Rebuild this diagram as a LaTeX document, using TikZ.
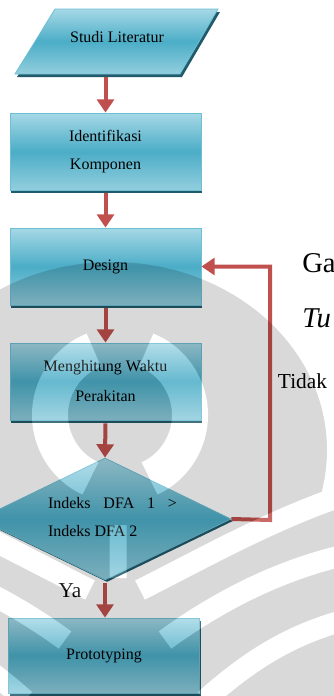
\documentclass[tikz,border=0pt]{standalone}
\usepackage{fontspec}
\setmainfont{Liberation Serif}
\usetikzlibrary{arrows.meta,shapes.geometric,shadows}

\definecolor{boxtop}{HTML}{A6D8E6}
\definecolor{boxmid}{HTML}{4BADC7}
\definecolor{boxbot}{HTML}{93CEDE}
\definecolor{boxedge}{HTML}{6DBFD4}
\definecolor{boxshade}{HTML}{215A6A}
\definecolor{flowred}{HTML}{C0504D}

\begin{document}
\begin{tikzpicture}[x=0.75pt, y=-0.75pt,
  flowfill/.style={draw=boxedge, line width=0.6pt,
    top color=boxtop, bottom color=boxbot, middle color=boxmid},
  boxshadow/.style={drop shadow={shadow xshift=0.75pt, shadow yshift=-2.25pt,
    fill=boxshade, opacity=1}},
  stepbox/.style={rectangle, flowfill, boxshadow,
    minimum width=143.25pt, minimum height=57.75pt, inner sep=0pt,
    align=center, font=\fontsize{12}{21}\selectfont},
  txt/.style={font=\fontsize{12}{21}\selectfont, inner sep=0pt},
  lbl/.style={font=\fontsize{16}{19}\selectfont, inner sep=0pt},
  big/.style={font=\fontsize{21.5}{26}\selectfont, inner sep=0pt, anchor=base west},
  conn/.style={draw=flowred, line width=3pt, shorten <=2.25pt,
    -{Triangle[width=12.75pt,length=10pt]}},
]
\useasboundingbox (0,0) rectangle (333,696);
\clip (0,0) rectangle (333,696);

% input step: parallelogram with its shadow
\fill[boxshade] (57,12) -- (220,12) -- (182,77) -- (17,77) -- cycle;
\path[flowfill] (55,9) -- (218,9) -- (180,74) -- (15,74) -- cycle;
\node[txt, minimum height=54.75pt] (lit) at (117,37.5) {Studi Literatur};

% process steps
\node[stepbox] (idk) at (105.5,151.5) {Identifikasi\\Komponen};
\node[stepbox] (des) at (105.5,266.5) {Design};
\node[stepbox] (mwp) at (105.5,381.5) {Menghitung Waktu\\[1.5pt]Perakitan};

% decision
\node[diamond, flowfill, inner sep=0pt,
  minimum width=189pt, minimum height=91.5pt,
  drop shadow={shadow xshift=1.5pt, shadow yshift=-1.5pt, fill=boxshade, opacity=1}]
  (dfa) at (105,519) {};
\node[txt, align=left] (dfat) at (112.5,517)
  {\makebox[96.75pt][s]{Indeks DFA 1 >}\\Indeks DFA 2};

\node[stepbox, minimum height=56.25pt] (pro) at (104,655.5) {Prototyping};

% connectors
\draw[conn] (idk.north |- lit.south) -- (idk.north);
\draw[conn] (idk.south) -- (des.north);
\draw[conn] (des.south) -- (mwp.north);
\draw[conn] (mwp.south) -- (dfa.north);
\draw[conn] (dfa.south) -- (dfa.south |- pro.north);
\coordinate (turn) at (270,520);
\draw[conn, shorten <=0pt] (dfa.east) -- (turn) |- (des.east);

% branch labels
\node[lbl] (ya) at (70,591) {Ya};
\node[lbl] (tidak) at (302.5,381) {Tidak};

% running text beside the chart
\node[big] (ga) at (302,272) {Ga};
\node[big, font=\fontsize{21.5}{26}\selectfont\itshape] (tu) at (302,327) {Tu};

% faint emblem laid over the page
\begin{scope}[transparency group, opacity=0.15]
  \fill[black] (112,450) ellipse [x radius=215, y radius=188];
  \fill[black] (-10,500) rectangle (345,700);
  \begin{scope}[draw=white, line width=27pt]
    \draw (120,415) ++(248:70) arc[start angle=248, end angle=115, radius=70];
    \draw (120,415) ++(-68:70) arc[start angle=-68, end angle=65, radius=70];
    \draw[line width=12.75pt] (118,525) -- (118,578);
  \end{scope}
  \begin{scope}[draw=white, line width=16pt]
    \draw (140,590) .. controls (200,560) and (270,520) .. (345,495);
    \draw (165,640) .. controls (220,600) and (280,570) .. (345,555);
    \draw (205,700) .. controls (250,660) and (290,635) .. (345,620);
    \draw (90,590) .. controls (30,560) and (-40,520) .. (-115,495);
    \draw (65,640) .. controls (10,600) and (-50,570) .. (-115,555);
    \draw (25,700) .. controls (-20,660) and (-60,635) .. (-115,620);
  \end{scope}
\end{scope}
\end{tikzpicture}
\end{document}
